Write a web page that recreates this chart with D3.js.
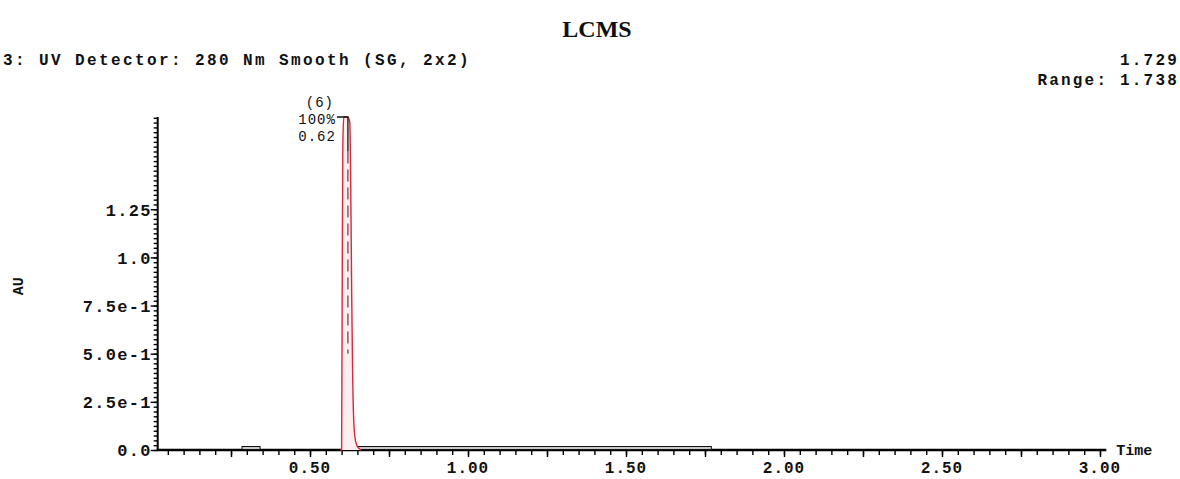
<!DOCTYPE html>
<html>
<head>
<meta charset="utf-8">
<script src="https://cdn.jsdelivr.net/npm/d3@7"></script>
<style>
  body { margin: 0; background: #fff; }
  svg text { fill: #111; }
  .mono { font-family: "Liberation Mono", "Courier New", monospace; font-weight: bold; }
</style>
</head>
<body>
<div id="chart"></div>
<script>
// chromatogram trace, UV 280 nm
const peakTimes = [0.596, 0.600, 0.602, 0.604, 0.607, 0.620, 0.626, 0.629, 0.632, 0.635, 0.638, 0.642, 0.648, 0.655, 0.662];
const peakAU    = [0.000, 0.000, 0.900, 1.600, 1.729, 1.729, 1.700, 1.350, 0.800, 0.380, 0.170, 0.070, 0.025, 0.008, 0.000];
const baseTimes = [0.018, 0.596, 0.662, 3.020];
const baseAU    = [0.000, 0.000, 0.000, 0.000];
// integration marks on the baseline (start, end)
const integStarts = [0.285, 0.620];
const integEnds   = [0.342, 1.770];
const peakLabels  = ["(6)", "100%", "0.62"];
const peakApex    = 0.62;
const yTickValues = [0, 0.25, 0.5, 0.75, 1.0, 1.25];
const yTickLabels = ["0.0", "2.5e-1", "5.0e-1", "7.5e-1", "1.0", "1.25"];
const xTickValues = [0.5, 1.0, 1.5, 2.0, 2.5, 3.0];
const xTickLabels = ["0.50", "1.00", "1.50", "2.00", "2.50", "3.00"];
const yMax = 1.729;

const W = 1180, H = 479;
const svg = d3.select('#chart').append('svg')
  .attr('width', W)
  .attr('height', H);

let x = d3.scaleLinear().domain([0.018, 3.02]).range([157.7, 1106.3]);
let y = d3.scaleLinear().domain([0, yMax]).range([450, 117]);

// title + header texts
svg.append('text')
  .attr('x', 597).attr('y', 37)
  .attr('text-anchor', 'middle')
  .style('font-family', '"Liberation Serif", "Times New Roman", serif')
  .style('font-weight', 'bold')
  .style('font-size', '24px')
  .text('LCMS');

svg.append('text')
  .attr('class', 'mono')
  .attr('x', 3).attr('y', 65)
  .style('font-size', '16px')
  .style('letter-spacing', '2.4px')
  .text('3: UV Detector: 280 Nm Smooth (SG, 2x2)');

svg.append('text')
  .attr('class', 'mono')
  .attr('x', 1179).attr('y', 65)
  .attr('text-anchor', 'end')
  .style('font-size', '16px')
  .style('letter-spacing', '2.2px')
  .text('1.729');

svg.append('text')
  .attr('class', 'mono')
  .attr('x', 1179).attr('y', 85)
  .attr('text-anchor', 'end')
  .style('font-size', '16px')
  .style('letter-spacing', '2.2px')
  .text('Range: 1.738');

// axes
let xMinor = d3.range(0.05, 3.001, 0.05);
let xAxisMinor = d3.axisBottom(x).tickValues(xMinor).tickSize(5).tickFormat('');
let xAxisMajor = d3.axisBottom(x).tickValues(d3.range(0.25, 3.001, 0.25)).tickSize(7).tickFormat('');
let gx = svg.append('g').attr('transform', `translate(0,${y(0)})`);
gx.append('g').call(xAxisMinor);
gx.append('g').call(xAxisMajor);
gx.selectAll('.domain').remove();
gx.selectAll('line').attr('stroke', '#000').attr('stroke-width', 1.4);

gx.selectAll('.xlab')
  .data(xTickValues)
  .enter().append('text')
  .attr('class', 'mono xlab')
  .attr('x', (d) => x(d))
  .attr('y', 23)
  .attr('text-anchor', 'middle')
  .style('font-size', '16px')
  .style('letter-spacing', '1px')
  .text((d, i) => xTickLabels[i]);

let yMinor = d3.range(0, yMax, 0.025);
let yAxisMinor = d3.axisLeft(y).tickValues(yMinor).tickSize(4).tickFormat('');
let yAxisMajor = d3.axisLeft(y).tickValues(yTickValues).tickSize(7).tickFormat((d, i) => yTickLabels[i]);
let gy = svg.append('g').attr('transform', `translate(${x(0.018)},0)`);
gy.append('g').call(yAxisMinor);
let gyMaj = gy.append('g').call(yAxisMajor);
gy.selectAll('.domain').remove();
gy.selectAll('line').attr('stroke', '#000').attr('stroke-width', 1.4);
gyMaj.selectAll('text')
  .attr('class', 'mono')
  .attr('x', -6)
  .attr('dy', '0.35em')
  .style('font-size', '17px')
  .style('letter-spacing', '1.3px')
  .style('fill', '#111');

// axis lines
svg.append('line')
  .attr('x1', x(0.018)).attr('x2', x(0.018))
  .attr('y1', y(0)).attr('y2', y(yMax))
  .attr('stroke', '#000').attr('stroke-width', 2);

svg.append('text')
  .attr('class', 'mono')
  .attr('transform', `translate(23,${y(0.85)}) rotate(-90)`)
  .attr('text-anchor', 'middle')
  .style('font-size', '15px')
  .text('AU');

svg.append('text')
  .attr('class', 'mono')
  .attr('x', x(3.02) + 10).attr('y', y(0) + 5)
  .style('font-size', '15px')
  .text('Time');

// baseline trace
let line = d3.line().x((d) => x(d[0])).y((d) => y(d[1]));
svg.append('path')
  .datum(d3.zip(baseTimes, baseAU))
  .attr('d', line)
  .attr('fill', 'none')
  .attr('stroke', '#000')
  .attr('stroke-width', 2.5);

// integration boxes
svg.selectAll('.integ')
  .data(d3.zip(integStarts, integEnds))
  .enter().append('rect')
  .attr('class', 'integ')
  .attr('x', (d) => x(d[0]))
  .attr('width', (d) => x(d[1]) - x(d[0]))
  .attr('y', y(0) - 3.5)
  .attr('height', 3)
  .attr('fill', '#c8c8c8')
  .attr('stroke', '#111')
  .attr('stroke-width', 1);

// peak (red)
svg.append('path')
  .datum(d3.zip(peakTimes, peakAU))
  .attr('d', line.curve(d3.curveMonotoneX))
  .attr('fill', '#fdeef0')
  .attr('stroke', '#d8283a')
  .attr('stroke-width', 1.4);

// apex marker
svg.append('path')
  .attr('d', `M${x(peakApex) - 11},${y(yMax)} H${x(peakApex)} V${y(1.55)}`)
  .attr('fill', 'none')
  .attr('stroke', '#111')
  .attr('stroke-width', 1.3);
svg.append('line')
  .attr('x1', x(peakApex)).attr('x2', x(peakApex))
  .attr('y1', y(1.55)).attr('y2', y(0.5))
  .attr('stroke', '#5a1018')
  .attr('stroke-width', 1)
  .attr('stroke-dasharray', '12,6');

// peak annotation
svg.selectAll('.plab')
  .data(peakLabels)
  .enter().append('text')
  .attr('class', 'mono plab')
  .attr('x', (d, i) => i === 0 ? x(peakApex) - 28 : x(peakApex) - 12)
  .attr('y', (d, i) => y(yMax) - 10 + i * 17)
  .attr('text-anchor', (d, i) => i === 0 ? 'middle' : 'end')
  .style('font-size', '14px')
  .style('font-weight', 'normal')
  .style('letter-spacing', '1px')
  .text((d) => d);
</script>
</body>
</html>
